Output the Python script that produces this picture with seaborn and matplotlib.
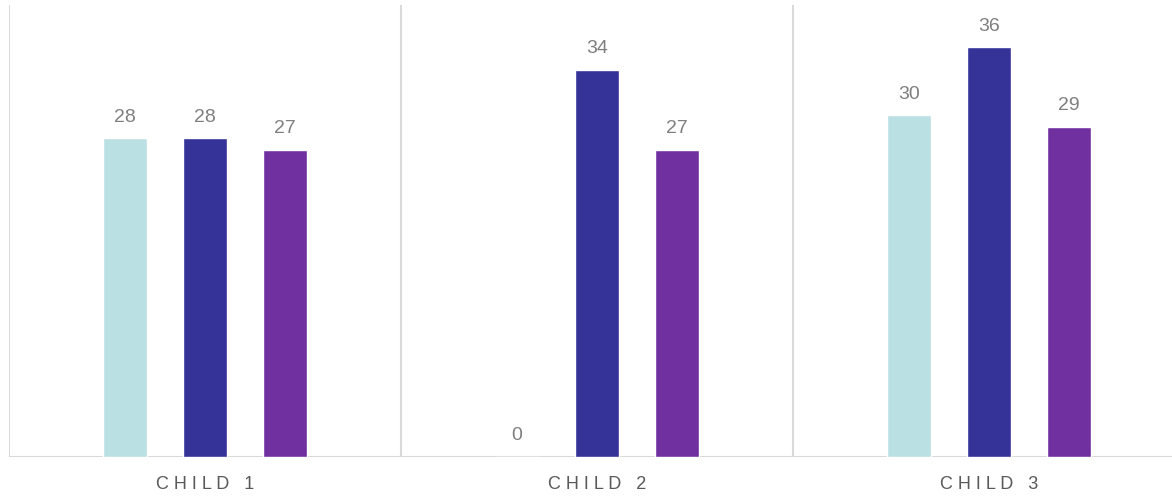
import numpy as np
import pandas as pd
import matplotlib
matplotlib.use("Agg")
import matplotlib.pyplot as plt
import seaborn as sns

# data
children = ["CHILD 1", "CHILD 2", "CHILD 3"]
series_names = ["Series 1", "Series 2", "Series 3"]
series_1 = [28, 0, 30]
series_2 = [28, 34, 36]
series_3 = [27, 27, 29]
colors = ["#BBE0E3", "#353398", "#7030A0"]

df = pd.DataFrame({
    "child": children * 3,
    "series": np.repeat(series_names, 3),
    "value": series_1 + series_2 + series_3,
})

sns.set_theme(style="white")
plt.rcParams["font.family"] = ["Liberation Sans", "DejaVu Sans"]

fig = plt.figure(figsize=(11.72, 4.96), dpi=100)
ax = fig.add_axes([9 / 1172, 39 / 496, 1176 / 1172, 452 / 496])

sns.barplot(data=df, x="child", y="value", hue="series", palette=colors,
            width=0.612, gap=0.46, ax=ax, legend=False, saturation=1)

for c in ax.containers:
    ax.bar_label(c, fmt="%d", padding=9, fontsize=14, color="#7F7F7F")

ax.set_xlim(-0.5, 2.5)
ax.set_ylim(0, 39.7)

# group separators and baseline
for x in [-0.5, 0.5, 1.5, 2.5]:
    ax.axvline(x, color="#D9D9D9", lw=1.5, zorder=0)
ax.axhline(0, color="#D9D9D9", lw=1.5, zorder=0)

for s in ax.spines.values():
    s.set_visible(False)
ax.set_yticks([])
ax.set_xticks(range(len(children)))
ax.set_xticklabels([" ".join(c) for c in children], fontsize=13, color="#595959")
ax.tick_params(axis="x", length=0, pad=14)
ax.set_xlabel("")
ax.set_ylabel("")

fig.savefig("out.png", dpi=100)
